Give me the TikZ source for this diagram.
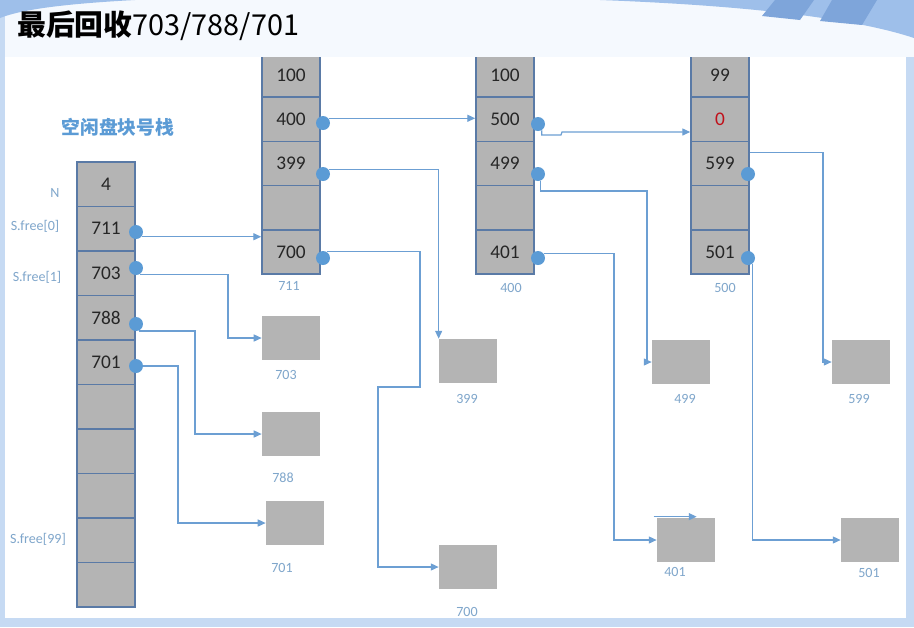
\documentclass[tikz,border=0pt]{standalone}
\usepackage{fontspec}
\setmainfont{Carlito}
\newfontfamily\cjk{Noto Sans CJK SC}
\usetikzlibrary{positioning,arrows.meta}
\definecolor{cellgray}{HTML}{B4B4B4}
\definecolor{cellline}{HTML}{5A7AA6}
\definecolor{linkblue}{HTML}{6C9FD3}
\definecolor{dotblue}{HTML}{5B9BD5}
\definecolor{tagblue}{HTML}{7FA6CB}
\definecolor{headblue}{HTML}{5B9BD5}
\definecolor{zerored}{HTML}{C0101A}
\definecolor{slideblue}{HTML}{C6DAF3}
\definecolor{swoosh}{HTML}{9EBFEA}
\definecolor{swooshdark}{HTML}{7EA5DA}
\definecolor{topwhite}{HTML}{F5F9FE}
\tikzset{
  cell/.style={draw=cellline,line width=0.9pt,fill=cellgray,text=black!85,minimum width=1.16cm,minimum height=0.885cm,inner sep=0pt,font=\fontsize{11}{12}\selectfont},
  blk/.style={fill=cellgray,minimum width=1.16cm,minimum height=0.88cm,inner sep=0pt},
  tag/.style={text=tagblue,inner sep=0pt,font=\fontsize{8}{9}\selectfont},
  dot/.style={circle,fill=dotblue,minimum size=0.28cm,inner sep=0pt},
  link/.style={draw=linkblue,line width=0.7pt,-{Triangle[length=4.5pt,width=4pt]}},
}
\begin{document}
\begin{tikzpicture}[x=0.02cm,y=-0.02cm]
\useasboundingbox (0,0) rectangle (914,627);
% slide background
\fill[slideblue] (0,0) rectangle (914,627);
\fill[topwhite] (5,0) rectangle (914,57);
\fill[swoosh] (0,0) -- (135,0) .. controls (60,4) and (20,10) .. (0,18) -- cycle;
\fill[swoosh] (600,0) .. controls (760,6) and (860,20) .. (914,38) -- (914,0) -- cycle;
\fill[swooshdark] (775,0) -- (814,0) -- (800,20) -- (762,16) -- cycle;
\fill[swooshdark] (832,0) -- (877,0) -- (862,25) -- (820,21) -- cycle;
\fill[white] (5,57) rectangle (906,618);
\node[anchor=west,inner sep=0pt,font=\fontsize{16.4}{18}\selectfont] (title) at (17,26) {\cjk\bfseries 最后回收\mdseries 703/788/701};

\begin{scope}
\clip (5,57) rectangle (906,618);
% free block stack
\node[font=\cjk\bfseries\fontsize{10.7}{12}\selectfont,text=headblue] (head) at (118,127) {空闲盘块号栈};
\foreach \v [count=\i from 0] in {4,711,703,788,701,{},{},{},{},{}}
  \node[cell] (s\i) at (106,{184.25+44.5*\i}) {\v};
\node[tag] (lN) at (55,193) {N};
\node[tag] (l0) at (35,226) {S.free[0]};
\node[tag] (l1) at (37,277) {S.free[1]};
\node[tag] (l99) at (38,539) {S.free[99]};

% group blocks 711, 400, 500
\foreach \v [count=\i from 0] in {100,400,399,{},700}
  \node[cell] (a\i) at (291,{75+44.25*\i}) {\v};
\foreach \v [count=\i from 0] in {100,500,499,{},401}
  \node[cell] (b\i) at (505,{75+44.25*\i}) {\v};
\foreach \v [count=\i from 0] in {99,\textcolor{zerored}{0},599,{},501}
  \node[cell] (c\i) at (720,{75+44.25*\i}) {\v};
\node[tag] (t711) at (289,286) {711};
\node[tag] (t400) at (511,288) {400};
\node[tag] (t500) at (725,288) {500};

% free blocks
\node[blk] (b703) at (291,338) {};
\node[blk] (b788) at (291,434) {};
\node[blk] (b701) at (295,523) {};
\node[blk] (b399) at (468,361) {};
\node[blk] (b700) at (468,567) {};
\node[blk] (b499) at (681,362) {};
\node[blk] (b401) at (686,540) {};
\node[blk] (b599) at (861,362) {};
\node[blk] (b501) at (870,540) {};
\node[tag] (t703) at (286,375) {703};
\node[tag] (t788) at (283,478) {788};
\node[tag] (t701) at (282,568) {701};
\node[tag] (t399) at (467,399) {399};
\node[tag] (t700) at (467,612) {700};
\node[tag] (t499) at (685,399) {499};
\node[tag] (t401) at (675,572) {401};
\node[tag] (t599) at (859,399) {599};
\node[tag] (t501) at (869,573) {501};

% pointers
\node[dot] (d711) at (136,232) {};
\node[dot] (d703) at (136,268) {};
\node[dot] (d788) at (136,324) {};
\node[dot] (d701) at (136,366) {};
\node[dot] (d400) at (323,123) {};
\node[dot] (d399) at (323,174) {};
\node[dot] (d700) at (323,258) {};
\node[dot] (d500) at (538,124) {};
\node[dot] (d499) at (538,174) {};
\node[dot] (d401) at (538,258) {};
\node[dot] (d599) at (748,174) {};
\node[dot] (d501) at (748,258) {};
\coordinate (j500) at (562,132);

\draw[link] (d711.-40) -- (d711.-40 -| a4.west);
\draw[link] (d703.-60) -| (228,300) |- (b703);
\draw[link] (d788.-70) -| (195,380) |- (b788);
\draw[link] (d701.east) -| (178,450) |- (b701);
\draw[link] (d400.40) -- (d400.40 -| b1.west);
\draw[link] (d399.40) -| (b399.north west);
\draw[link] (d700.60) -| (420,320) |- (378,387) |- (b700);
\draw[link] (d500.-60) |- (561,135) -- (j500) -- (j500 -| c1.west);
\draw[link] (d499.-70) |- (647,191) |- (b499);
\draw[link] (d401.40) -| (614,400) |- (b401);
\draw[link] (c2.20) -| (823,300) |- (b599);
\draw[link] (d501.-50) |- (b501);
\draw[link] (b401.north west) ++(-3,-1) -- ++(43,0);
\end{scope}
\end{tikzpicture}
\end{document}
